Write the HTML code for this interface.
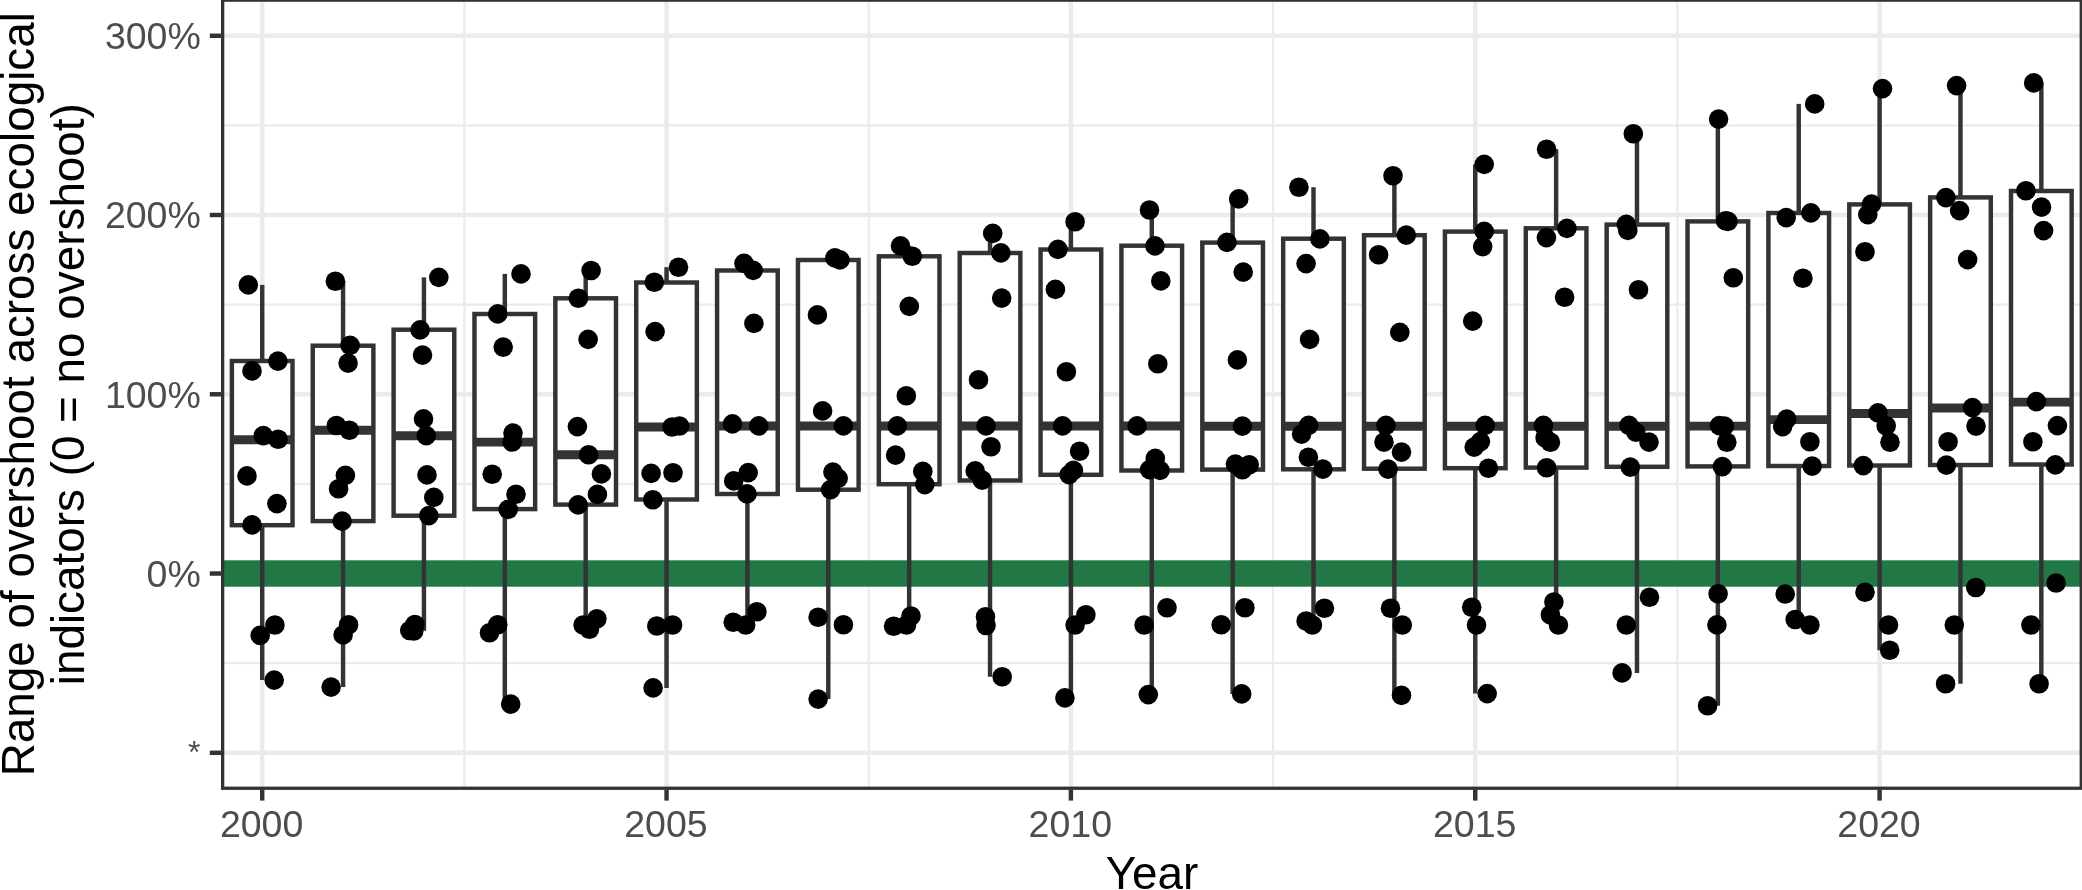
<!DOCTYPE html>
<html><head><meta charset="utf-8"><title>chart</title>
<style>html,body{margin:0;padding:0;background:#fff;}svg{display:block;will-change:transform;}text{font-family:"Liberation Sans",sans-serif;}</style></head>
<body>
<svg width="2082" height="890" viewBox="0 0 2082 890">
<rect x="0" y="0" width="2082" height="890" fill="#ffffff"/>
<g stroke="#EBEBEB" stroke-width="2.2" fill="none">
<line x1="222.65" x2="2081.25" y1="125.38" y2="125.38"/>
<line x1="222.65" x2="2081.25" y1="304.64" y2="304.64"/>
<line x1="222.65" x2="2081.25" y1="483.91" y2="483.91"/>
<line x1="222.65" x2="2081.25" y1="663.17" y2="663.17"/>
<line y1="0.15" y2="788.25" x1="464.38" x2="464.38"/>
<line y1="0.15" y2="788.25" x1="868.73" x2="868.73"/>
<line y1="0.15" y2="788.25" x1="1273.08" x2="1273.08"/>
<line y1="0.15" y2="788.25" x1="1677.43" x2="1677.43"/>
</g>
<g stroke="#EBEBEB" stroke-width="4.45" fill="none">
<line x1="222.65" x2="2081.25" y1="35.75" y2="35.75"/>
<line x1="222.65" x2="2081.25" y1="215.01" y2="215.01"/>
<line x1="222.65" x2="2081.25" y1="394.27" y2="394.27"/>
<line x1="222.65" x2="2081.25" y1="573.54" y2="573.54"/>
<line x1="222.65" x2="2081.25" y1="752.80" y2="752.80"/>
<line y1="0.15" y2="788.25" x1="262.20" x2="262.20"/>
<line y1="0.15" y2="788.25" x1="666.55" x2="666.55"/>
<line y1="0.15" y2="788.25" x1="1070.90" x2="1070.90"/>
<line y1="0.15" y2="788.25" x1="1475.25" x2="1475.25"/>
<line y1="0.15" y2="788.25" x1="1879.60" x2="1879.60"/>
</g>
<rect x="222.65" y="560.3" width="1858.60" height="26.4" fill="#227845"/>
<g stroke="#333333" stroke-width="4.45" fill="#ffffff">
<line x1="262.20" x2="262.20" y1="284.9" y2="361.0"/>
<line x1="262.20" x2="262.20" y1="525.2" y2="680.1"/>
<rect x="231.87" y="361.0" width="60.65" height="164.2"/>
<line x1="231.87" x2="292.53" y1="439.7" y2="439.7" stroke-width="8.9"/>
<line x1="343.07" x2="343.07" y1="281.2" y2="345.7"/>
<line x1="343.07" x2="343.07" y1="521.1" y2="687.1"/>
<rect x="312.74" y="345.7" width="60.65" height="175.4"/>
<line x1="312.74" x2="373.40" y1="430.3" y2="430.3" stroke-width="8.9"/>
<line x1="423.94" x2="423.94" y1="277.4" y2="329.7"/>
<line x1="423.94" x2="423.94" y1="515.7" y2="630.8"/>
<rect x="393.61" y="329.7" width="60.65" height="186.0"/>
<line x1="393.61" x2="454.27" y1="435.7" y2="435.7" stroke-width="8.9"/>
<line x1="504.81" x2="504.81" y1="273.9" y2="314.0"/>
<line x1="504.81" x2="504.81" y1="509.1" y2="704.1"/>
<rect x="474.48" y="314.0" width="60.65" height="195.1"/>
<line x1="474.48" x2="535.14" y1="442.1" y2="442.1" stroke-width="8.9"/>
<line x1="585.68" x2="585.68" y1="270.5" y2="298.3"/>
<line x1="585.68" x2="585.68" y1="504.6" y2="629.2"/>
<rect x="555.35" y="298.3" width="60.65" height="206.3"/>
<line x1="555.35" x2="616.01" y1="454.7" y2="454.7" stroke-width="8.9"/>
<line x1="666.55" x2="666.55" y1="267.2" y2="282.5"/>
<line x1="666.55" x2="666.55" y1="499.5" y2="687.9"/>
<rect x="636.22" y="282.5" width="60.65" height="217.0"/>
<line x1="636.22" x2="696.88" y1="427.0" y2="427.0" stroke-width="8.9"/>
<line x1="747.42" x2="747.42" y1="263.4" y2="270.5"/>
<line x1="747.42" x2="747.42" y1="494.0" y2="625.0"/>
<rect x="717.09" y="270.5" width="60.65" height="223.5"/>
<line x1="717.09" x2="777.75" y1="426.0" y2="426.0" stroke-width="8.9"/>
<line x1="828.29" x2="828.29" y1="257.9" y2="260.0"/>
<line x1="828.29" x2="828.29" y1="489.7" y2="699.1"/>
<rect x="797.96" y="260.0" width="60.65" height="229.7"/>
<line x1="797.96" x2="858.62" y1="426.0" y2="426.0" stroke-width="8.9"/>
<line x1="909.16" x2="909.16" y1="245.9" y2="256.3"/>
<line x1="909.16" x2="909.16" y1="484.2" y2="626.2"/>
<rect x="878.83" y="256.3" width="60.65" height="227.9"/>
<line x1="878.83" x2="939.49" y1="426.0" y2="426.0" stroke-width="8.9"/>
<line x1="990.03" x2="990.03" y1="233.4" y2="253.0"/>
<line x1="990.03" x2="990.03" y1="480.5" y2="676.7"/>
<rect x="959.70" y="253.0" width="60.65" height="227.5"/>
<line x1="959.70" x2="1020.36" y1="426.0" y2="426.0" stroke-width="8.9"/>
<line x1="1070.90" x2="1070.90" y1="221.7" y2="249.5"/>
<line x1="1070.90" x2="1070.90" y1="474.8" y2="697.9"/>
<rect x="1040.57" y="249.5" width="60.65" height="225.3"/>
<line x1="1040.57" x2="1101.23" y1="426.0" y2="426.0" stroke-width="8.9"/>
<line x1="1151.77" x2="1151.77" y1="210.0" y2="245.7"/>
<line x1="1151.77" x2="1151.77" y1="470.5" y2="694.6"/>
<rect x="1121.44" y="245.7" width="60.65" height="224.8"/>
<line x1="1121.44" x2="1182.10" y1="426.0" y2="426.0" stroke-width="8.9"/>
<line x1="1232.64" x2="1232.64" y1="198.9" y2="242.6"/>
<line x1="1232.64" x2="1232.64" y1="469.6" y2="693.9"/>
<rect x="1202.31" y="242.6" width="60.65" height="227.0"/>
<line x1="1202.31" x2="1262.97" y1="426.2" y2="426.2" stroke-width="8.9"/>
<line x1="1313.51" x2="1313.51" y1="187.2" y2="238.7"/>
<line x1="1313.51" x2="1313.51" y1="469.3" y2="625.0"/>
<rect x="1283.18" y="238.7" width="60.65" height="230.6"/>
<line x1="1283.18" x2="1343.84" y1="426.2" y2="426.2" stroke-width="8.9"/>
<line x1="1394.38" x2="1394.38" y1="175.7" y2="235.2"/>
<line x1="1394.38" x2="1394.38" y1="468.7" y2="695.4"/>
<rect x="1364.05" y="235.2" width="60.65" height="233.5"/>
<line x1="1364.05" x2="1424.71" y1="426.2" y2="426.2" stroke-width="8.9"/>
<line x1="1475.25" x2="1475.25" y1="164.4" y2="231.6"/>
<line x1="1475.25" x2="1475.25" y1="468.2" y2="693.6"/>
<rect x="1444.92" y="231.6" width="60.65" height="236.6"/>
<line x1="1444.92" x2="1505.58" y1="426.2" y2="426.2" stroke-width="8.9"/>
<line x1="1556.12" x2="1556.12" y1="149.2" y2="228.3"/>
<line x1="1556.12" x2="1556.12" y1="467.6" y2="625.0"/>
<rect x="1525.79" y="228.3" width="60.65" height="239.3"/>
<line x1="1525.79" x2="1586.45" y1="426.2" y2="426.2" stroke-width="8.9"/>
<line x1="1636.99" x2="1636.99" y1="133.7" y2="224.6"/>
<line x1="1636.99" x2="1636.99" y1="466.8" y2="672.9"/>
<rect x="1606.66" y="224.6" width="60.65" height="242.2"/>
<line x1="1606.66" x2="1667.32" y1="426.2" y2="426.2" stroke-width="8.9"/>
<line x1="1717.86" x2="1717.86" y1="119.1" y2="221.4"/>
<line x1="1717.86" x2="1717.86" y1="466.4" y2="705.7"/>
<rect x="1687.53" y="221.4" width="60.65" height="245.0"/>
<line x1="1687.53" x2="1748.19" y1="426.1" y2="426.1" stroke-width="8.9"/>
<line x1="1798.73" x2="1798.73" y1="103.9" y2="213.0"/>
<line x1="1798.73" x2="1798.73" y1="466.0" y2="625.0"/>
<rect x="1768.40" y="213.0" width="60.65" height="253.0"/>
<line x1="1768.40" x2="1829.06" y1="419.6" y2="419.6" stroke-width="8.9"/>
<line x1="1879.60" x2="1879.60" y1="88.6" y2="204.4"/>
<line x1="1879.60" x2="1879.60" y1="465.5" y2="650.3"/>
<rect x="1849.27" y="204.4" width="60.65" height="261.1"/>
<line x1="1849.27" x2="1909.93" y1="413.5" y2="413.5" stroke-width="8.9"/>
<line x1="1960.47" x2="1960.47" y1="85.6" y2="197.4"/>
<line x1="1960.47" x2="1960.47" y1="465.0" y2="683.8"/>
<rect x="1930.14" y="197.4" width="60.65" height="267.6"/>
<line x1="1930.14" x2="1990.80" y1="408.0" y2="408.0" stroke-width="8.9"/>
<line x1="2041.34" x2="2041.34" y1="82.9" y2="191.0"/>
<line x1="2041.34" x2="2041.34" y1="464.5" y2="683.8"/>
<rect x="2011.01" y="191.0" width="60.65" height="273.5"/>
<line x1="2011.01" x2="2071.67" y1="402.1" y2="402.1" stroke-width="8.9"/>
</g>
<g fill="#000000">
<circle cx="248.3" cy="284.9" r="9.8"/>
<circle cx="277.9" cy="361.1" r="9.8"/>
<circle cx="252.0" cy="370.9" r="9.8"/>
<circle cx="263.3" cy="435.6" r="9.8"/>
<circle cx="278.1" cy="439.2" r="9.8"/>
<circle cx="247.0" cy="475.9" r="9.8"/>
<circle cx="276.9" cy="503.6" r="9.8"/>
<circle cx="252.0" cy="524.9" r="9.8"/>
<circle cx="274.9" cy="625.0" r="9.8"/>
<circle cx="260.2" cy="635.4" r="9.8"/>
<circle cx="274.2" cy="680.1" r="9.8"/>
<circle cx="335.4" cy="281.2" r="9.8"/>
<circle cx="350.1" cy="345.4" r="9.8"/>
<circle cx="348.1" cy="363.1" r="9.8"/>
<circle cx="336.4" cy="425.5" r="9.8"/>
<circle cx="349.4" cy="430.2" r="9.8"/>
<circle cx="345.4" cy="475.4" r="9.8"/>
<circle cx="338.6" cy="488.7" r="9.8"/>
<circle cx="342.1" cy="521.1" r="9.8"/>
<circle cx="348.6" cy="624.7" r="9.8"/>
<circle cx="343.1" cy="634.9" r="9.8"/>
<circle cx="331.1" cy="687.1" r="9.8"/>
<circle cx="438.8" cy="277.4" r="9.8"/>
<circle cx="420.1" cy="329.9" r="9.8"/>
<circle cx="422.5" cy="355.1" r="9.8"/>
<circle cx="423.5" cy="418.9" r="9.8"/>
<circle cx="426.3" cy="435.6" r="9.8"/>
<circle cx="427.0" cy="474.9" r="9.8"/>
<circle cx="433.8" cy="497.4" r="9.8"/>
<circle cx="428.8" cy="515.6" r="9.8"/>
<circle cx="414.9" cy="624.5" r="9.8"/>
<circle cx="409.8" cy="630.5" r="9.8"/>
<circle cx="413.8" cy="631.0" r="9.8"/>
<circle cx="521.0" cy="273.9" r="9.8"/>
<circle cx="497.7" cy="313.9" r="9.8"/>
<circle cx="503.2" cy="347.1" r="9.8"/>
<circle cx="513.0" cy="433.1" r="9.8"/>
<circle cx="512.2" cy="442.0" r="9.8"/>
<circle cx="492.2" cy="474.2" r="9.8"/>
<circle cx="516.0" cy="494.2" r="9.8"/>
<circle cx="508.2" cy="509.4" r="9.8"/>
<circle cx="497.7" cy="624.7" r="9.8"/>
<circle cx="489.5" cy="632.7" r="9.8"/>
<circle cx="510.7" cy="704.1" r="9.8"/>
<circle cx="591.1" cy="270.5" r="9.8"/>
<circle cx="578.4" cy="298.2" r="9.8"/>
<circle cx="588.1" cy="339.4" r="9.8"/>
<circle cx="577.4" cy="426.6" r="9.8"/>
<circle cx="588.6" cy="454.7" r="9.8"/>
<circle cx="601.4" cy="473.9" r="9.8"/>
<circle cx="597.4" cy="494.4" r="9.8"/>
<circle cx="578.1" cy="504.9" r="9.8"/>
<circle cx="596.9" cy="618.7" r="9.8"/>
<circle cx="583.1" cy="625.0" r="9.8"/>
<circle cx="589.4" cy="629.2" r="9.8"/>
<circle cx="678.5" cy="267.2" r="9.8"/>
<circle cx="654.3" cy="282.2" r="9.8"/>
<circle cx="655.1" cy="331.6" r="9.8"/>
<circle cx="672.1" cy="427.0" r="9.8"/>
<circle cx="679.5" cy="426.0" r="9.8"/>
<circle cx="651.1" cy="473.4" r="9.8"/>
<circle cx="673.0" cy="472.7" r="9.8"/>
<circle cx="652.8" cy="499.7" r="9.8"/>
<circle cx="656.8" cy="626.0" r="9.8"/>
<circle cx="672.6" cy="625.0" r="9.8"/>
<circle cx="653.1" cy="687.9" r="9.8"/>
<circle cx="744.0" cy="263.4" r="9.8"/>
<circle cx="753.2" cy="270.4" r="9.8"/>
<circle cx="753.9" cy="323.4" r="9.8"/>
<circle cx="732.5" cy="423.9" r="9.8"/>
<circle cx="758.7" cy="425.9" r="9.8"/>
<circle cx="748.2" cy="472.6" r="9.8"/>
<circle cx="733.7" cy="480.9" r="9.8"/>
<circle cx="747.0" cy="493.9" r="9.8"/>
<circle cx="733.2" cy="622.2" r="9.8"/>
<circle cx="745.7" cy="625.0" r="9.8"/>
<circle cx="756.9" cy="611.7" r="9.8"/>
<circle cx="834.9" cy="257.9" r="9.8"/>
<circle cx="839.9" cy="259.9" r="9.8"/>
<circle cx="817.4" cy="314.9" r="9.8"/>
<circle cx="822.6" cy="410.9" r="9.8"/>
<circle cx="843.4" cy="425.9" r="9.8"/>
<circle cx="832.9" cy="472.1" r="9.8"/>
<circle cx="838.1" cy="478.4" r="9.8"/>
<circle cx="830.6" cy="489.6" r="9.8"/>
<circle cx="818.1" cy="617.2" r="9.8"/>
<circle cx="843.4" cy="624.7" r="9.8"/>
<circle cx="818.1" cy="699.1" r="9.8"/>
<circle cx="900.5" cy="245.9" r="9.8"/>
<circle cx="912.3" cy="256.2" r="9.8"/>
<circle cx="909.3" cy="306.4" r="9.8"/>
<circle cx="906.3" cy="395.7" r="9.8"/>
<circle cx="897.3" cy="425.9" r="9.8"/>
<circle cx="895.6" cy="455.1" r="9.8"/>
<circle cx="922.8" cy="471.4" r="9.8"/>
<circle cx="924.8" cy="484.6" r="9.8"/>
<circle cx="893.6" cy="626.2" r="9.8"/>
<circle cx="906.5" cy="625.0" r="9.8"/>
<circle cx="911.0" cy="616.0" r="9.8"/>
<circle cx="992.7" cy="233.4" r="9.8"/>
<circle cx="1000.9" cy="252.9" r="9.8"/>
<circle cx="1001.7" cy="298.1" r="9.8"/>
<circle cx="978.5" cy="379.8" r="9.8"/>
<circle cx="986.0" cy="425.9" r="9.8"/>
<circle cx="991.0" cy="446.7" r="9.8"/>
<circle cx="975.2" cy="470.9" r="9.8"/>
<circle cx="982.2" cy="480.1" r="9.8"/>
<circle cx="985.5" cy="616.7" r="9.8"/>
<circle cx="986.0" cy="625.5" r="9.8"/>
<circle cx="1002.2" cy="676.7" r="9.8"/>
<circle cx="1075.1" cy="221.7" r="9.8"/>
<circle cx="1057.9" cy="249.4" r="9.8"/>
<circle cx="1055.4" cy="289.4" r="9.8"/>
<circle cx="1066.4" cy="371.8" r="9.8"/>
<circle cx="1062.6" cy="425.9" r="9.8"/>
<circle cx="1079.6" cy="451.2" r="9.8"/>
<circle cx="1073.4" cy="470.4" r="9.8"/>
<circle cx="1069.1" cy="474.6" r="9.8"/>
<circle cx="1085.9" cy="614.7" r="9.8"/>
<circle cx="1075.1" cy="625.0" r="9.8"/>
<circle cx="1064.9" cy="697.9" r="9.8"/>
<circle cx="1149.5" cy="210.0" r="9.8"/>
<circle cx="1155.0" cy="245.9" r="9.8"/>
<circle cx="1160.8" cy="280.9" r="9.8"/>
<circle cx="1157.8" cy="363.8" r="9.8"/>
<circle cx="1137.1" cy="425.9" r="9.8"/>
<circle cx="1155.3" cy="458.4" r="9.8"/>
<circle cx="1149.6" cy="469.6" r="9.8"/>
<circle cx="1160.0" cy="470.4" r="9.8"/>
<circle cx="1167.0" cy="607.7" r="9.8"/>
<circle cx="1144.1" cy="625.0" r="9.8"/>
<circle cx="1148.3" cy="694.6" r="9.8"/>
<circle cx="1238.7" cy="198.9" r="9.8"/>
<circle cx="1227.0" cy="242.4" r="9.8"/>
<circle cx="1243.2" cy="272.1" r="9.8"/>
<circle cx="1237.4" cy="359.9" r="9.8"/>
<circle cx="1242.4" cy="426.1" r="9.8"/>
<circle cx="1235.4" cy="464.1" r="9.8"/>
<circle cx="1242.4" cy="469.8" r="9.8"/>
<circle cx="1249.2" cy="464.8" r="9.8"/>
<circle cx="1244.9" cy="607.7" r="9.8"/>
<circle cx="1221.2" cy="624.7" r="9.8"/>
<circle cx="1241.7" cy="693.9" r="9.8"/>
<circle cx="1298.9" cy="187.2" r="9.8"/>
<circle cx="1319.9" cy="238.9" r="9.8"/>
<circle cx="1306.1" cy="263.6" r="9.8"/>
<circle cx="1309.6" cy="339.4" r="9.8"/>
<circle cx="1308.6" cy="425.4" r="9.8"/>
<circle cx="1301.6" cy="434.1" r="9.8"/>
<circle cx="1308.4" cy="457.3" r="9.8"/>
<circle cx="1322.9" cy="469.1" r="9.8"/>
<circle cx="1324.4" cy="608.2" r="9.8"/>
<circle cx="1306.1" cy="621.0" r="9.8"/>
<circle cx="1312.4" cy="625.0" r="9.8"/>
<circle cx="1393.0" cy="175.7" r="9.8"/>
<circle cx="1406.3" cy="235.1" r="9.8"/>
<circle cx="1378.6" cy="254.8" r="9.8"/>
<circle cx="1399.8" cy="332.4" r="9.8"/>
<circle cx="1386.0" cy="425.4" r="9.8"/>
<circle cx="1384.0" cy="442.1" r="9.8"/>
<circle cx="1401.5" cy="452.1" r="9.8"/>
<circle cx="1388.0" cy="469.1" r="9.8"/>
<circle cx="1390.5" cy="608.2" r="9.8"/>
<circle cx="1402.3" cy="625.0" r="9.8"/>
<circle cx="1401.5" cy="695.4" r="9.8"/>
<circle cx="1484.2" cy="164.4" r="9.8"/>
<circle cx="1484.2" cy="231.4" r="9.8"/>
<circle cx="1482.7" cy="246.6" r="9.8"/>
<circle cx="1472.7" cy="321.1" r="9.8"/>
<circle cx="1485.2" cy="425.4" r="9.8"/>
<circle cx="1480.4" cy="441.6" r="9.8"/>
<circle cx="1474.2" cy="447.1" r="9.8"/>
<circle cx="1488.4" cy="468.3" r="9.8"/>
<circle cx="1471.7" cy="607.2" r="9.8"/>
<circle cx="1476.5" cy="625.0" r="9.8"/>
<circle cx="1487.2" cy="693.6" r="9.8"/>
<circle cx="1546.6" cy="149.2" r="9.8"/>
<circle cx="1566.9" cy="228.4" r="9.8"/>
<circle cx="1546.4" cy="237.6" r="9.8"/>
<circle cx="1564.6" cy="297.3" r="9.8"/>
<circle cx="1543.4" cy="425.4" r="9.8"/>
<circle cx="1545.1" cy="437.8" r="9.8"/>
<circle cx="1550.4" cy="442.3" r="9.8"/>
<circle cx="1546.6" cy="467.8" r="9.8"/>
<circle cx="1553.9" cy="602.0" r="9.8"/>
<circle cx="1550.4" cy="614.7" r="9.8"/>
<circle cx="1558.4" cy="625.0" r="9.8"/>
<circle cx="1633.3" cy="133.7" r="9.8"/>
<circle cx="1626.3" cy="224.4" r="9.8"/>
<circle cx="1627.8" cy="230.4" r="9.8"/>
<circle cx="1638.5" cy="289.8" r="9.8"/>
<circle cx="1629.0" cy="425.4" r="9.8"/>
<circle cx="1635.8" cy="432.1" r="9.8"/>
<circle cx="1649.0" cy="442.1" r="9.8"/>
<circle cx="1630.3" cy="467.1" r="9.8"/>
<circle cx="1649.5" cy="597.2" r="9.8"/>
<circle cx="1626.3" cy="625.0" r="9.8"/>
<circle cx="1622.1" cy="672.9" r="9.8"/>
<circle cx="1718.6" cy="119.1" r="9.8"/>
<circle cx="1725.6" cy="220.8" r="9.8"/>
<circle cx="1728.0" cy="221.4" r="9.8"/>
<circle cx="1733.3" cy="277.7" r="9.8"/>
<circle cx="1719.4" cy="425.6" r="9.8"/>
<circle cx="1724.4" cy="426.1" r="9.8"/>
<circle cx="1726.8" cy="442.2" r="9.8"/>
<circle cx="1722.4" cy="466.6" r="9.8"/>
<circle cx="1718.1" cy="593.7" r="9.8"/>
<circle cx="1716.9" cy="624.9" r="9.8"/>
<circle cx="1707.6" cy="705.7" r="9.8"/>
<circle cx="1814.7" cy="103.9" r="9.8"/>
<circle cx="1786.2" cy="217.6" r="9.8"/>
<circle cx="1810.9" cy="212.9" r="9.8"/>
<circle cx="1802.9" cy="278.2" r="9.8"/>
<circle cx="1786.7" cy="419.1" r="9.8"/>
<circle cx="1782.7" cy="426.6" r="9.8"/>
<circle cx="1809.9" cy="441.8" r="9.8"/>
<circle cx="1812.2" cy="466.1" r="9.8"/>
<circle cx="1785.2" cy="594.0" r="9.8"/>
<circle cx="1795.2" cy="619.5" r="9.8"/>
<circle cx="1809.9" cy="625.0" r="9.8"/>
<circle cx="1882.5" cy="88.6" r="9.8"/>
<circle cx="1871.5" cy="204.1" r="9.8"/>
<circle cx="1867.8" cy="214.6" r="9.8"/>
<circle cx="1865.0" cy="251.8" r="9.8"/>
<circle cx="1878.0" cy="412.9" r="9.8"/>
<circle cx="1886.2" cy="425.8" r="9.8"/>
<circle cx="1890.0" cy="442.2" r="9.8"/>
<circle cx="1863.3" cy="465.6" r="9.8"/>
<circle cx="1865.0" cy="592.2" r="9.8"/>
<circle cx="1888.5" cy="625.0" r="9.8"/>
<circle cx="1889.7" cy="650.3" r="9.8"/>
<circle cx="1956.6" cy="85.6" r="9.8"/>
<circle cx="1945.9" cy="197.6" r="9.8"/>
<circle cx="1959.6" cy="210.6" r="9.8"/>
<circle cx="1967.6" cy="259.6" r="9.8"/>
<circle cx="1972.5" cy="407.6" r="9.8"/>
<circle cx="1976.0" cy="426.1" r="9.8"/>
<circle cx="1948.1" cy="441.8" r="9.8"/>
<circle cx="1946.4" cy="465.1" r="9.8"/>
<circle cx="1975.8" cy="587.5" r="9.8"/>
<circle cx="1954.3" cy="625.0" r="9.8"/>
<circle cx="1945.6" cy="683.8" r="9.8"/>
<circle cx="2033.7" cy="82.9" r="9.8"/>
<circle cx="2025.9" cy="190.7" r="9.8"/>
<circle cx="2041.6" cy="207.1" r="9.8"/>
<circle cx="2043.6" cy="230.6" r="9.8"/>
<circle cx="2036.4" cy="401.6" r="9.8"/>
<circle cx="2057.4" cy="425.6" r="9.8"/>
<circle cx="2032.9" cy="441.8" r="9.8"/>
<circle cx="2055.4" cy="464.9" r="9.8"/>
<circle cx="2056.1" cy="583.0" r="9.8"/>
<circle cx="2030.9" cy="625.0" r="9.8"/>
<circle cx="2039.1" cy="683.8" r="9.8"/>
</g>
<rect x="222.65" y="0.15" width="1858.60" height="788.10" fill="none" stroke="#333333" stroke-width="3.3"/>
<g stroke="#333333" stroke-width="4.45" fill="none">
<line x1="209.8" x2="221.2" y1="35.75" y2="35.75"/>
<line x1="209.8" x2="221.2" y1="215.01" y2="215.01"/>
<line x1="209.8" x2="221.2" y1="394.27" y2="394.27"/>
<line x1="209.8" x2="221.2" y1="573.54" y2="573.54"/>
<line x1="209.8" x2="221.2" y1="752.80" y2="752.80"/>
<line y1="789.6" y2="800.6" x1="262.20" x2="262.20"/>
<line y1="789.6" y2="800.6" x1="666.55" x2="666.55"/>
<line y1="789.6" y2="800.6" x1="1070.90" x2="1070.90"/>
<line y1="789.6" y2="800.6" x1="1475.25" x2="1475.25"/>
<line y1="789.6" y2="800.6" x1="1879.60" x2="1879.60"/>
</g>
<g fill="#4D4D4D" font-size="37.5px">
<text x="200.8" y="49.15" text-anchor="end">300%</text>
<text x="200.8" y="228.41" text-anchor="end">200%</text>
<text x="200.8" y="407.67" text-anchor="end">100%</text>
<text x="200.8" y="586.94" text-anchor="end">0%</text>
<text x="200.5" y="763.00" text-anchor="end" font-size="32px">*</text>
<text x="261.60" y="836.7" text-anchor="middle">2000</text>
<text x="665.95" y="836.7" text-anchor="middle">2005</text>
<text x="1070.30" y="836.7" text-anchor="middle">2010</text>
<text x="1474.65" y="836.7" text-anchor="middle">2015</text>
<text x="1879.00" y="836.7" text-anchor="middle">2020</text>
</g>
<g fill="#000000" font-size="45.83px">
<text x="1152.0" y="888.5" text-anchor="middle">Year</text>
<text transform="translate(33.5,394.2) rotate(-90)" text-anchor="middle">Range of overshoot across ecological</text>
<text transform="translate(84,394.2) rotate(-90)" text-anchor="middle">indicators (0 = no overshoot)</text>
</g>
</svg>
</body></html>
